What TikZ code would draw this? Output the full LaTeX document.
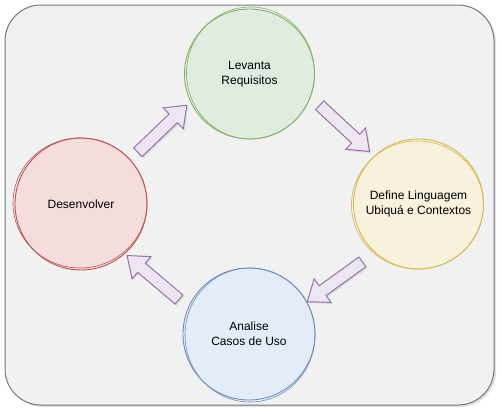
\documentclass[tikz,border=0pt]{standalone}
\usepackage{fontspec}
\setmainfont{Liberation Sans}
\usetikzlibrary{shapes.arrows,shadows}
\definecolor{frameS}{HTML}{777777}
\definecolor{frameF}{HTML}{F1F1F1}
\definecolor{greenS}{HTML}{82B366}
\definecolor{greenF}{HTML}{D5E8D4}
\definecolor{yellowS}{HTML}{D6B656}
\definecolor{yellowF}{HTML}{FFF2CC}
\definecolor{blueS}{HTML}{6C8EBF}
\definecolor{blueF}{HTML}{DAE8FC}
\definecolor{redS}{HTML}{B85450}
\definecolor{redF}{HTML}{F8CECC}
\definecolor{arrowS}{HTML}{9673A6}
\definecolor{arrowF}{HTML}{EDE5F1}
\tikzset{
  framebox/.style={draw=frameS, fill=frameF, line width=1pt, rounded corners=36pt,
    drop shadow={opacity=0.25, shadow xshift=2pt, shadow yshift=-2pt}},
  phase/.style={circle, minimum size=130pt, inner sep=0pt, line width=0.9pt,
    fill opacity=0.55, text opacity=1, align=center,
    font=\fontsize{12}{15}\selectfont},
  sketch/.style={line width=0.6pt},
  blockarrow/.style={single arrow, draw=arrowS, fill=arrowF, line width=1pt,
    inner sep=0pt, inner ysep=5.5pt, minimum height=68pt,
    single arrow head extend=8.5pt, single arrow tip angle=75,
    single arrow head indent=0pt, sloped, allow upside down,
    drop shadow={opacity=0.2, shadow xshift=1.5pt, shadow yshift=-1.5pt}}
}
\begin{document}
\begin{tikzpicture}[x=1pt,y=-1pt]
\useasboundingbox (0,0) rectangle (502,413);
\draw[framebox] (5,5) rectangle (494,405);

\node[phase, draw=greenS, fill=greenF] (lev) at (249.5,74) {Levanta\\Requisitos};
\draw[sketch, greenS] ([shift={(1,-1)}]lev.center) ellipse [x radius=64pt, y radius=66pt];

\node[phase, draw=yellowS, fill=yellowF] (def) at (418.5,204) {Define Linguagem\\Ubiquá e Contextos};
\draw[sketch, yellowS] ([shift={(-1,1)}]def.center) ellipse [x radius=66pt, y radius=64pt];

\node[phase, draw=blueS, fill=blueF, minimum size=132pt] (ana) at (249,334) {Analise\\Casos de Uso};
\draw[sketch, blueS] ([shift={(1,1)}]ana.center) ellipse [x radius=65pt, y radius=67pt];

\node[phase, draw=redS, fill=redF, minimum size=132pt] (des) at (81,204) {Desenvolver};
\draw[sketch, redS] ([shift={(-1,-1)}]des.center) ellipse [x radius=67pt, y radius=65pt];

\coordinate (a1s) at (135,155); \coordinate (a1e) at (184,108);
\coordinate (a2s) at (314.5,100.5); \coordinate (a2e) at (369,151);
\coordinate (a3s) at (365,260); \coordinate (a3e) at (311,299);
\coordinate (a4s) at (182,302); \coordinate (a4e) at (130,258);

\path (a1s) -- node[blockarrow] (arr1) {} (a1e);
\path (a2s) -- node[blockarrow] (arr2) {} (a2e);
\path (a3s) -- node[blockarrow] (arr3) {} (a3e);
\path (a4s) -- node[blockarrow] (arr4) {} (a4e);
\end{tikzpicture}
\end{document}
